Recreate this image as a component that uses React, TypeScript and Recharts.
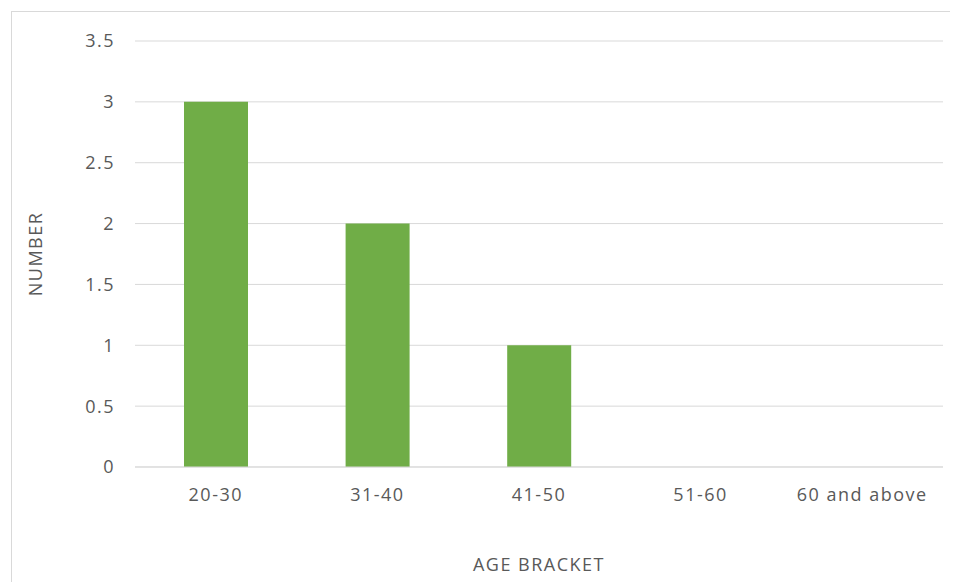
import { BarChart, Bar, XAxis, YAxis, CartesianGrid } from 'recharts'

const ageBrackets = ['20-30', '31-40', '41-50', '51-60', '60 and above']
const respondents = [3, 2, 1, 0, 0]
const yTicks = [0, 0.5, 1, 1.5, 2, 2.5, 3, 3.5]

const data = ageBrackets.map((bracket, i) => ({ bracket, count: respondents[i] }))

const TEXT = '#595959'
const GRID = '#d9d9d9'
const FONT_SIZE = 18

function NumberTitle({ viewBox }: any) {
  const cy = viewBox.y + viewBox.height / 2
  return (
    <text
      x={27}
      y={cy}
      transform={`rotate(-90, 27, ${cy})`}
      textAnchor="middle"
      dominantBaseline="central"
      fill={TEXT}
      fontSize={FONT_SIZE}
    >
      NUMBER
    </text>
  )
}

export default function App() {
  return (
    <div
      style={{
        position: 'relative',
        width: 950,
        height: 574,
        overflow: 'hidden',
        background: '#fff',
        fontFamily: '"Open Sans", sans-serif',
        letterSpacing: 1.5,
      }}
    >
      {/* chart frame, only its left and top edges fall inside the page */}
      <div
        style={{
          position: 'absolute',
          left: 3,
          top: 3,
          width: 1000,
          height: 1000,
          border: `1px solid ${GRID}`,
        }}
      />
      <BarChart
        width={950}
        height={574}
        data={data}
        margin={{ top: 33, right: 15, bottom: 55, left: 0 }}
        style={{ position: 'absolute', left: 0, top: 0 }}
      >
        <CartesianGrid vertical={false} stroke={GRID} />
        <XAxis
          dataKey="bracket"
          height={60}
          axisLine={{ stroke: GRID }}
          tickLine={false}
          tickSize={0}
          tickMargin={21}
          tick={{ fill: TEXT, fontSize: FONT_SIZE }}
          label={{ value: 'AGE BRACKET', position: 'bottom', offset: 31, fill: TEXT, fontSize: FONT_SIZE }}
        />
        <YAxis
          width={127}
          domain={[0, 3.5]}
          ticks={yTicks}
          axisLine={false}
          tickLine={false}
          tickSize={0}
          tickMargin={20}
          tick={{ fill: TEXT, fontSize: FONT_SIZE }}
          label={<NumberTitle />}
        />
        <Bar dataKey="count" fill="#70ad47" barSize={64} isAnimationActive={false} />
      </BarChart>
    </div>
  )
}
